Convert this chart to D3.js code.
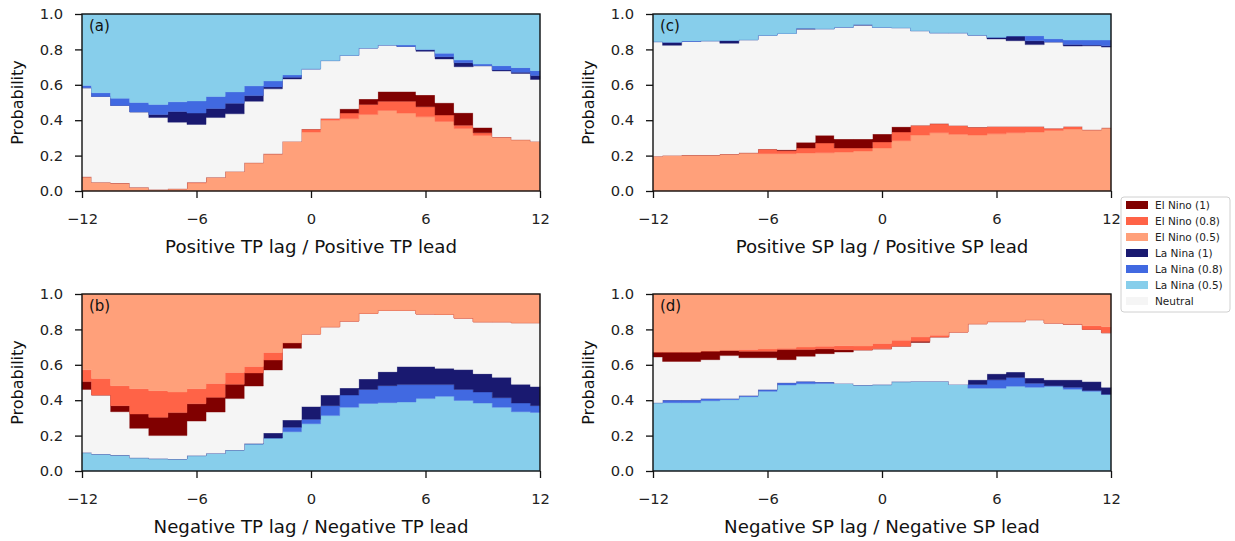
<!DOCTYPE html>
<html>
<head>
<meta charset="utf-8">
<script src="https://cdn.jsdelivr.net/npm/d3@7"></script>
<style>
  body { margin: 0; background: #fff; }
  svg { display: block; }
  .tick text { font-family: "DejaVu Sans", sans-serif; font-size: 14.7px; fill: #222; }
  .axis-label { font-family: "DejaVu Sans", sans-serif; fill: #111; }
  .legend text { font-family: "DejaVu Sans", sans-serif; font-size: 10.5px; fill: #222; }
</style>
</head>
<body>
<div id="chart"></div>
<script>
// lags (months)
var lags = [-12, -11, -10, -9, -8, -7, -6, -5, -4, -3, -2, -1, 0, 1, 2, 3, 4, 5, 6, 7, 8, 9, 10, 11, 12];
var xTicks = [-12, -6, 0, 6, 12];
var yTicks = [0, 0.2, 0.4, 0.6, 0.8, 1.0];

var keys = ["en10", "en08", "en05", "ln10", "ln08", "ln05", "neutral"];
var legendLabels = ["El Nino (1)", "El Nino (0.8)", "El Nino (0.5)", "La Nina (1)", "La Nina (0.8)", "La Nina (0.5)", "Neutral"];
var colors = ["#800000", "#ff6347", "#ffa07a", "#191970", "#4169e1", "#87ceeb", "#f5f5f5"];

// panel (a) positive TP
var aEn05 = [.080, .050, .045, .021, .009, .013, .045, .077, .110, .160, .210, .280, .333, .400, .408, .432, .455, .440, .419, .393, .353, .314, .305, .290, .280];
var aEn08 = [0, 0, 0, 0, 0, 0, .005, 0, 0, 0, 0, 0, .017, .010, .032, .057, .052, .067, .057, .036, .019, .015, 0, 0, 0];
var aEn10 = [0, 0, 0, 0, 0, 0, 0, 0, 0, 0, 0, 0, 0, 0, .024, .031, .055, .055, .067, .069, .070, .030, 0, 0, 0];
var aNeutral = [.503, .484, .438, .426, .406, .376, .326, .338, .326, .347, .367, .353, .340, .327, .303, .288, .263, .255, .246, .248, .260, .349, .373, .374, .350];
var aLn10 = [0, 0, 0, 0, .017, .060, .064, .051, .060, .032, .011, .010, 0, 0, 0, 0, 0, 0, .008, .013, .023, 0, .006, .007, .022];
var aLn08 = [.013, .021, .041, .053, .057, .055, .069, .068, .064, .055, .034, .013, 0, 0, 0, 0, 0, .008, .003, .019, .015, .009, .024, .026, .028];
var aLn05 = [.404, .445, .476, .500, .511, .496, .491, .466, .440, .406, .378, .344, .310, .263, .233, .192, .175, .175, .200, .222, .260, .283, .292, .303, .320];

// panel (b) negative TP
var bEn05 = [.428, .478, .518, .535, .546, .554, .535, .505, .443, .409, .331, .275, .226, .185, .153, .109, .092, .092, .113, .115, .136, .157, .157, .162, .162];
var bEn08 = [.067, .093, .113, .143, .151, .116, .085, .079, .067, .037, .042, 0, 0, 0, 0, 0, 0, 0, 0, 0, 0, 0, 0, 0, 0];
var bEn10 = [.044, 0, .034, .081, .103, .130, .098, .083, .081, .074, .056, .032, 0, 0, 0, 0, 0, 0, 0, 0, 0, 0, 0, 0, 0];
var bNeutral = [.357, .333, .245, .166, .130, .132, .195, .233, .290, .324, .356, .405, .409, .386, .378, .371, .347, .317, .296, .305, .291, .293, .314, .348, .360];
var bLn10 = [0, 0, 0, 0, 0, 0, 0, 0, 0, .003, .029, .041, .073, .060, .040, .059, .079, .103, .103, .092, .112, .104, .115, .106, .109];
var bLn08 = [0, 0, 0, 0, 0, 0, 0, 0, 0, 0, 0, .025, .025, .056, .069, .079, .096, .098, .079, .066, .062, .062, .054, .049, .038];
var bLn05 = [.104, .096, .090, .075, .070, .068, .087, .100, .119, .153, .186, .222, .267, .313, .360, .382, .386, .390, .409, .422, .399, .384, .360, .335, .331];

// panel (c) positive SP
var cEn05 = [.197, .201, .203, .203, .209, .216, .211, .211, .215, .216, .220, .226, .243, .284, .316, .329, .320, .316, .323, .329, .333, .342, .350, .346, .357];
var cEn08 = [0, 0, 0, 0, 0, 0, .026, .017, .028, .055, .023, .017, .034, .049, .056, .051, .050, .045, .042, .036, .032, .013, .015, 0, 0];
var cEn10 = [0, 0, 0, 0, 0, 0, 0, .005, .032, .044, .051, .051, .045, .030, 0, .002, 0, 0, 0, 0, 0, 0, 0, 0, 0];
var cNeutral = [.647, .622, .642, .646, .626, .639, .643, .657, .639, .602, .632, .642, .603, .560, .534, .512, .524, .520, .494, .484, .462, .487, .454, .474, .456];
var cLn10 = [0, .017, 0, 0, .015, 0, 0, 0, .005, 0, 0, .004, 0, 0, 0, 0, 0, 0, .009, .027, .022, 0, .008, .005, .007];
var cLn08 = [0, 0, .003, 0, 0, 0, 0, 0, 0, 0, 0, 0, 0, 0, 0, 0, 0, 0, 0, 0, .028, .018, .026, .028, .033];
var cLn05 = [.156, .160, .152, .151, .150, .145, .120, .110, .081, .083, .074, .060, .075, .077, .094, .106, .106, .119, .132, .124, .123, .140, .147, .147, .147];

// panel (d) negative SP
var dEn05 = [.328, .328, .328, .322, .318, .314, .311, .307, .300, .295, .292, .294, .280, .261, .243, .233, .215, .168, .156, .156, .145, .164, .168, .179, .185];
var dEn08 = [0, 0, 0, 0, 0, .010, .013, .007, .014, .015, .023, .022, .030, .034, .024, .010, 0, 0, 0, 0, 0, 0, .003, .021, .034];
var dEn10 = [.028, .053, .053, .049, .030, .036, .036, .057, .038, .027, .013, 0, 0, 0, .007, 0, 0, 0, 0, 0, 0, 0, 0, 0, 0];
var dNeutral = [.258, .218, .218, .219, .242, .214, .180, .130, .141, .160, .177, .198, .202, .200, .219, .250, .296, .317, .295, .285, .330, .321, .314, .295, .308];
var dLn10 = [0, 0, 0, 0, 0, 0, 0, 0, 0, 0, 0, 0, 0, 0, 0, 0, 0, .026, .034, .031, .029, .033, .042, .050, .040];
var dLn08 = [0, .015, .015, .013, .007, .006, .010, .013, .014, .008, 0, 0, 0, 0, 0, 0, 0, .021, .047, .049, .023, .003, .011, .005, 0];
var dLn05 = [.386, .386, .386, .397, .403, .420, .450, .486, .493, .495, .495, .486, .488, .505, .507, .507, .489, .468, .468, .479, .473, .479, .462, .450, .433];

var elNinoBelow = ["en05", "en08", "en10", "neutral", "ln10", "ln08", "ln05"];
var laNinaBelow = ["ln05", "ln08", "ln10", "neutral", "en10", "en08", "en05"];

var panels = [
    {tag: "(a)", left: 82, top: 14, order: elNinoBelow, xlabel: "Positive TP lag / Positive TP lead",
        series: {en05: aEn05, en08: aEn08, en10: aEn10, neutral: aNeutral, ln10: aLn10, ln08: aLn08, ln05: aLn05}},
    {tag: "(b)", left: 82, top: 294, order: laNinaBelow, xlabel: "Negative TP lag / Negative TP lead",
        series: {en05: bEn05, en08: bEn08, en10: bEn10, neutral: bNeutral, ln10: bLn10, ln08: bLn08, ln05: bLn05}},
    {tag: "(c)", left: 653, top: 14, order: elNinoBelow, xlabel: "Positive SP lag / Positive SP lead",
        series: {en05: cEn05, en08: cEn08, en10: cEn10, neutral: cNeutral, ln10: cLn10, ln08: cLn08, ln05: cLn05}},
    {tag: "(d)", left: 653, top: 294, order: laNinaBelow, xlabel: "Negative SP lag / Negative SP lead",
        series: {en05: dEn05, en08: dEn08, en10: dEn10, neutral: dNeutral, ln10: dLn10, ln08: dLn08, ln05: dLn05}}
];

var W = 1235, H = 541;
var pw = 458, ph = 177;

var svg = d3.select("#chart").append("svg")
    .attr("width", W)
    .attr("height", H);

var colorOf = d3.scaleOrdinal().domain(keys).range(colors);

panels.forEach(function(p) {
    var g = svg.append("g")
        .attr("transform", "translate(" + p.left + "," + p.top + ")");

    var x = d3.scaleLinear().domain([-12, 12]).range([0, pw]);
    var y = d3.scaleLinear().domain([0, 1]).range([ph, 0]);

    var rows = lags.map(function(l, i) {
        var r = {lag: l};
        p.order.forEach(function(k) { r[k] = p.series[k][i]; });
        return r;
    });

    var stacked = d3.stack().keys(p.order)(rows);

    var area = d3.area()
        .x(function(d) { return x(d.data.lag); })
        .y0(function(d) { return y(d[0]); })
        .y1(function(d) { return y(d[1]); })
        .curve(d3.curveStep);

    g.selectAll(".layer")
        .data(stacked)
        .enter()
        .append("path")
        .attr("class", "layer")
        .attr("d", area)
        .attr("fill", function(d) { return colorOf(d.key); })
        .attr("stroke", function(d) { return colorOf(d.key); })
        .attr("stroke-width", 0.4);

    // frame
    g.append("rect")
        .attr("width", pw)
        .attr("height", ph)
        .attr("fill", "none")
        .attr("stroke", "#111")
        .attr("stroke-width", 1.4);

    var xAxis = d3.axisBottom(x)
        .tickValues(xTicks)
        .tickSize(7)
        .tickSizeOuter(0)
        .tickFormat(function(d) { return d < 0 ? "\u2212" + Math.abs(d) : d; });

    var yAxis = d3.axisLeft(y)
        .tickValues(yTicks)
        .tickSize(7)
        .tickSizeOuter(0)
        .tickFormat(d3.format(".1f"));

    var gx = g.append("g")
        .attr("transform", "translate(0," + ph + ")")
        .call(xAxis);
    gx.select(".domain").remove();
    gx.selectAll(".tick line").attr("stroke", "#111").attr("stroke-width", 1.3);
    gx.selectAll(".tick text").attr("y", 22).attr("dy", "0.74em");

    var gy = g.append("g").call(yAxis);
    gy.select(".domain").remove();
    gy.selectAll(".tick line").attr("stroke", "#111").attr("stroke-width", 1.3);
    gy.selectAll(".tick text").attr("x", -19);

    g.append("text")
        .attr("class", "axis-label")
        .attr("x", pw / 2)
        .attr("y", ph + 62)
        .attr("text-anchor", "middle")
        .style("font-size", "18.2px")
        .text(p.xlabel);

    g.append("text")
        .attr("class", "axis-label")
        .attr("transform", "translate(-59," + (ph / 2) + ") rotate(-90)")
        .attr("text-anchor", "middle")
        .style("font-size", "16px")
        .text("Probability");

    g.append("text")
        .attr("class", "axis-label")
        .attr("x", 7)
        .attr("y", 17)
        .style("font-size", "15px")
        .text(p.tag);
});

// legend
var lg = svg.append("g")
    .attr("class", "legend")
    .attr("transform", "translate(1121,197)");

lg.append("rect")
    .attr("width", 109)
    .attr("height", 115)
    .attr("rx", 3)
    .attr("fill", "#fff")
    .attr("stroke", "#d0d0d0")
    .attr("stroke-width", 1);

legendLabels.forEach(function(label, i) {
    var row = lg.append("g")
        .attr("transform", "translate(0," + (8 + i * 16) + ")");
    row.append("rect")
        .attr("x", 5)
        .attr("y", -4)
        .attr("width", 22)
        .attr("height", 8)
        .attr("fill", colors[i]);
    row.append("text")
        .attr("x", 34)
        .attr("y", 4)
        .text(label);
});
</script>
</body>
</html>
